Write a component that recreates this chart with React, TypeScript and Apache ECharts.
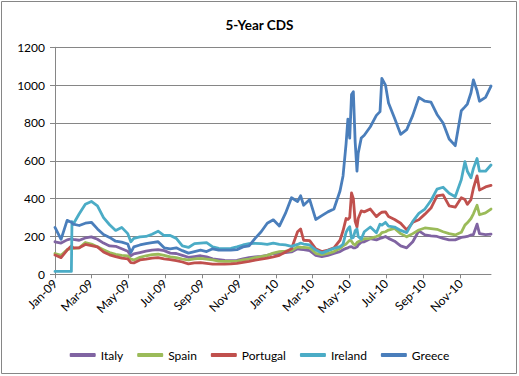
import React, { useEffect, useRef } from "react";
import * as echarts from "echarts";

// days since 1 Jan 2009
const days = [0, 10, 20, 27, 28, 30, 40, 50, 60, 70, 80, 90, 100, 110, 120, 125, 130, 140, 150, 160, 170, 180, 190, 200, 210, 220, 230, 240, 250, 260, 270, 280, 290, 300, 310, 320, 330, 340, 350, 360, 370, 380, 390, 400, 405, 410, 420, 430, 440, 450, 460, 470, 475, 480, 483, 486, 489, 492, 495, 498, 500, 505, 510, 520, 530, 536, 539, 545, 550, 560, 570, 580, 590, 600, 610, 620, 630, 640, 650, 660, 670, 676, 680, 686, 690, 696, 700, 710, 719];

const italy = [172, 165, 182, 188, 188, 185, 180, 192, 198, 185, 165, 150, 148, 135, 122, 98, 108, 115, 122, 128, 130, 125, 112, 110, 100, 90, 94, 98, 92, 82, 78, 74, 72, 74, 82, 88, 92, 95, 100, 110, 111, 115, 118, 135, 132, 130, 125, 100, 93, 100, 111, 120, 130, 137, 140, 145, 146, 140, 140, 145, 155, 170, 172, 188, 182, 190, 192, 200, 190, 175, 150, 140, 172, 230, 208, 203, 200, 190, 182, 182, 195, 198, 200, 208, 210, 265, 215, 210, 212];

const spain = [110, 100, 130, 137, 137, 137, 140, 168, 160, 145, 130, 115, 105, 100, 97, 80, 76, 90, 98, 104, 106, 100, 92, 88, 80, 76, 82, 84, 80, 76, 70, 68, 68, 70, 76, 80, 88, 93, 100, 112, 120, 122, 125, 145, 143, 142, 140, 111, 104, 110, 120, 137, 150, 160, 170, 180, 175, 160, 155, 168, 172, 180, 188, 190, 200, 208, 220, 225, 234, 243, 215, 198, 215, 234, 245, 242, 238, 225, 215, 208, 222, 260, 272, 295, 320, 365, 315, 325, 345];

const portugal = [102, 88, 128, 150, 150, 140, 140, 158, 152, 145, 118, 103, 93, 85, 82, 62, 60, 76, 80, 85, 88, 82, 78, 72, 65, 55, 60, 62, 58, 54, 54, 54, 55, 58, 63, 68, 75, 80, 85, 92, 100, 118, 135, 225, 240, 180, 178, 135, 120, 128, 140, 180, 230, 295, 290, 300, 430, 400, 280, 250, 295, 335, 330, 345, 305, 322, 328, 330, 305, 290, 270, 235, 275, 288, 318, 350, 415, 420, 362, 355, 405, 395, 370, 395, 455, 520, 445, 462, 470];

const ireland = [15, 15, 15, 15, 278, 265, 320, 370, 385, 362, 300, 262, 232, 248, 215, 172, 190, 198, 200, 212, 228, 205, 205, 190, 150, 142, 162, 165, 167, 145, 137, 135, 137, 145, 155, 162, 164, 162, 158, 165, 158, 155, 148, 158, 165, 160, 155, 128, 112, 125, 137, 146, 160, 222, 240, 252, 190, 195, 230, 240, 200, 185, 225, 250, 220, 265, 260, 275, 255, 250, 232, 220, 280, 322, 345, 390, 450, 460, 428, 410, 500, 595, 545, 510, 560, 612, 545, 545, 578];

const greece = [248, 185, 285, 275, 272, 265, 258, 270, 275, 240, 210, 195, 175, 170, 160, 115, 145, 155, 162, 168, 172, 140, 135, 140, 125, 112, 120, 128, 120, 135, 128, 128, 128, 130, 145, 150, 190, 225, 270, 288, 255, 322, 405, 385, 415, 365, 395, 290, 310, 330, 345, 440, 520, 690, 820, 720, 950, 965, 700, 545, 640, 720, 735, 780, 840, 860, 1036, 1000, 905, 825, 740, 765, 840, 935, 915, 910, 845, 800, 715, 680, 865, 885, 900, 960, 1028, 970, 915, 935, 995];

const tickLabels = ["Jan-09", "Mar-09", "May-09", "Jul-09", "Sep-09", "Nov-09", "Jan-10", "Mar-10", "May-10", "Jul-10", "Sep-10", "Nov-10"];
const yTicks = [0, 200, 400, 600, 800, 1000, 1200];

const seriesNames = ["Italy", "Spain", "Portugal", "Ireland", "Greece"];
const seriesValues = [italy, spain, portugal, ireland, greece];
const colors = ["#8064A2", "#9BBB59", "#C0504D", "#4BACC6", "#4A7EBB"];

const MONTHS = ["Jan", "Feb", "Mar", "Apr", "May", "Jun", "Jul", "Aug", "Sep", "Oct", "Nov", "Dec"];
const labelDay = (l: string) => {
  const [m, y] = l.split("-");
  return Math.round((Date.UTC(2000 + Number(y), MONTHS.indexOf(m), 1) - Date.UTC(2009, 0, 1)) / 86400000);
};
const tickDays = tickLabels.map(labelDay);
const labelByDay: Record<number, string> = {};
tickDays.forEach((d, i) => (labelByDay[d] = tickLabels[i]));

const FONT = "Lato, 'Liberation Sans', sans-serif";
const GRID = "#868686";

export default function App() {
  const ref = useRef<HTMLDivElement>(null);
  useEffect(() => {
    if (!ref.current) return;
    const chart = echarts.init(ref.current, null, { renderer: "svg" });
    chart.setOption({
      animation: false,
      backgroundColor: "#ffffff",
      color: colors,
      title: {
        text: "5-Year CDS",
        left: "center",
        top: 13,
        textStyle: { fontFamily: FONT, fontSize: 13.5, fontWeight: "bold", color: "#000" },
      },
      graphic: [
        {
          type: "rect",
          shape: { x: 1.5, y: 1.5, width: 515, height: 372 },
          style: { fill: "none", stroke: GRID, lineWidth: 1 },
          silent: true,
        },
      ],
      legend: {
        top: 344,
        left: "center",
        icon: "roundRect",
        itemWidth: 26,
        itemHeight: 4,
        itemGap: 14,
        textStyle: { fontFamily: FONT, fontSize: 12, color: "#000" },
        data: seriesNames,
      },
      grid: { left: 55, right: 28, top: 47.3, bottom: 101.7, containLabel: false },
      xAxis: {
        type: "value",
        min: 0,
        max: 719,
        axisLine: { show: true, lineStyle: { color: GRID, width: 1 } },
        axisTick: { show: true, length: 4, customValues: tickDays, lineStyle: { color: GRID } },
        splitLine: { show: false },
        axisLabel: {
          customValues: tickDays,
          rotate: 45,
          margin: 7,
          hideOverlap: false,
          fontFamily: FONT,
          fontSize: 12,
          color: "#000",
          formatter: (v: number) => labelByDay[Math.round(v)] ?? "",
        },
      },
      yAxis: {
        type: "value",
        min: yTicks[0],
        max: yTicks[yTicks.length - 1],
        interval: 200,
        axisLine: { show: true, lineStyle: { color: GRID, width: 1 } },
        axisTick: { show: true, length: 5, lineStyle: { color: GRID } },
        splitLine: { show: true, lineStyle: { color: GRID, width: 1 } },
        axisLabel: {
          fontFamily: FONT,
          fontSize: 12,
          color: "#000",
          margin: 10,
          formatter: (v: number) => String(v),
        },
      },
      series: seriesNames.map((name, i) => ({
        name,
        type: "line",
        data: days.map((d, k) => [d, seriesValues[i][k]]),
        showSymbol: false,
        symbol: "none",
        lineStyle: { width: 2.8, color: colors[i], join: "round", cap: "round" },
        itemStyle: { color: colors[i] },
      })),
    });
    return () => chart.dispose();
  }, []);
  return (
    <div
      ref={ref}
      style={{ position: "fixed", left: 0, top: 0, width: 519, height: 376, background: "#fff" }}
    />
  );
}
